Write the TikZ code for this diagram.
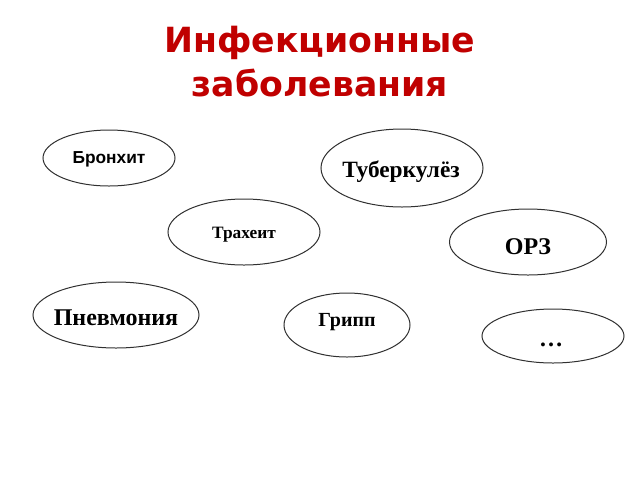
\documentclass[tikz,border=0pt]{standalone}
\usepackage{fontspec}
\setmainfont{Liberation Serif}
\setsansfont{Liberation Sans}
\newfontfamily\titlefont{DejaVu Sans}
\usetikzlibrary{shapes.geometric}
\definecolor{titlered}{HTML}{C00000}
\definecolor{edge}{HTML}{303030}
\begin{document}
\begin{tikzpicture}[x=0.75pt,y=-0.75pt,
  oval/.style 2 args={ellipse,draw=edge,line width=0.75pt,inner sep=0pt,minimum width={0.75pt*#1},minimum height={0.75pt*#2}},
  word/.style={inner sep=0pt,font=\bfseries},
  title/.style={inner sep=0pt,text=titlered,font=\titlefont\bfseries\fontsize{26}{33}\selectfont,align=center}]
\useasboundingbox (0,0) rectangle (640,480);
\node[title] (t1) at (320,43) {Инфекционные};
\node[title] (t2) at (320,83) {заболевания};

\node[oval={132}{56}] (e1) at (109,158) {};
\node[word,font=\sffamily\bfseries\fontsize{13}{15}\selectfont] (w1) at (109,159) {Бронхит};

\node[oval={152}{66}] (e2) at (244,232) {};
\node[word,font=\bfseries\fontsize{13}{15}\selectfont] (w2) at (244,235) {Трахеит};

\node[oval={166}{66}] (e3) at (116,315) {};
\node[word,font=\bfseries\fontsize{18}{20}\selectfont] (w3) at (116,318) {Пневмония};

\node[oval={162}{78}] (e4) at (402,168) {};
\node[word,font=\bfseries\fontsize{17.5}{20}\selectfont] (w4) at (401,172) {Туберкулёз};

\node[oval={157}{66}] (e5) at (528,242) {};
\node[word,font=\bfseries\fontsize{18}{20}\selectfont] (w5) at (528,247) {ОРЗ};

\node[oval={126}{64}] (e6) at (347,325) {};
\node[word,font=\bfseries\fontsize{15}{18}\selectfont] (w6) at (347,322) {Грипп};

\node[oval={142}{54}] (e7) at (553,336) {};
\node[word,font=\bfseries\fontsize{18}{20}\selectfont] (w7) at (551,345) {…};
\end{tikzpicture}
\end{document}
